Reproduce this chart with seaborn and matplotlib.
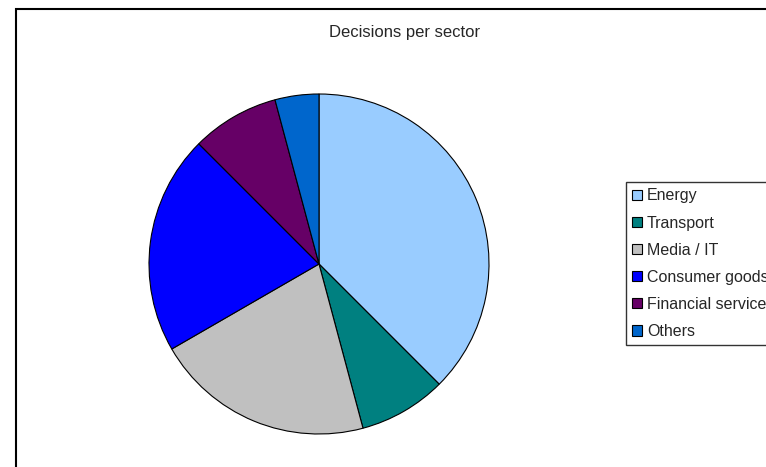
import matplotlib
matplotlib.use("Agg")
import matplotlib.pyplot as plt
import seaborn as sns
from matplotlib.patches import Rectangle

sectors = ["Energy", "Transport", "Media / IT", "Consumer goods", "Financial services", "Others"]
decisions = [9, 2, 5, 5, 2, 1]
colors = ["#99CCFF", "#008080", "#C0C0C0", "#0000FF", "#660066", "#0066CC"]

sns.set_theme(style="white")
plt.rcParams["font.family"] = ["Liberation Sans", "DejaVu Sans"]

W, H = 766, 467
fig = plt.figure(figsize=(W / 100, H / 100), dpi=100)
fig.patch.set_facecolor("white")

# chart area border (right / bottom sides run off the picture)
fig.patches.append(Rectangle((16 / W, -0.1), 1.2, 1 - 9 / H + 0.1,
                             transform=fig.transFigure, fill=False,
                             edgecolor="black", linewidth=1.5))

# pie centre (319, 264), radius 170 px
cx, cy, r = 319, 264, 170
ax = fig.add_axes([(cx - r) / W, (H - cy - r) / H, 2 * r / W, 2 * r / H])
wedges, _ = ax.pie(decisions, colors=colors, startangle=90, counterclock=False,
                   wedgeprops=dict(edgecolor="black", linewidth=0.8))
ax.set_xlim(-1, 1)
ax.set_ylim(-1, 1)
ax.set_aspect("equal")
ax.axis("off")

fig.text(405 / W, 1 - 33 / H, "Decisions per sector", ha="center", va="center",
         fontsize=12)

leg = fig.legend(wedges, sectors, loc="upper left",
                 bbox_to_anchor=(626 / W, 1 - 182 / H),
                 bbox_transform=fig.transFigure, borderaxespad=0,
                 frameon=True, fancybox=False, edgecolor="black",
                 fontsize=11.5, handlelength=0.6, handleheight=0.6,
                 handletextpad=0.3, labelspacing=0.76, borderpad=0.4)
leg.get_frame().set_linewidth(1.0)
for h in leg.legend_handles:
    h.set_linewidth(0.8)
    h.set_edgecolor("black")

fig.savefig("out.png", dpi=100)
